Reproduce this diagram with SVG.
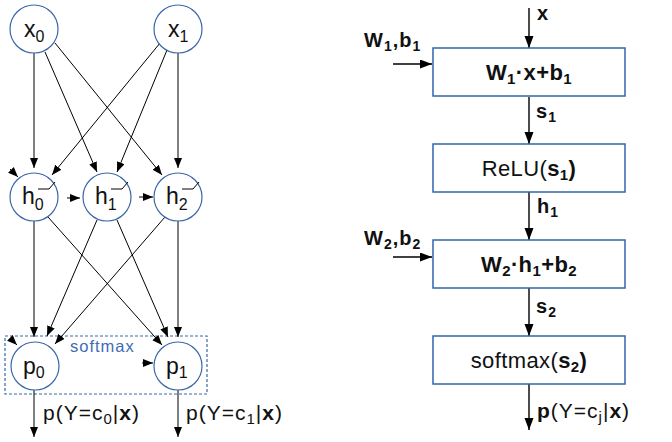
<svg xmlns="http://www.w3.org/2000/svg" width="672" height="442" viewBox="0 0 672 442">
<defs>
<marker id="ah" markerUnits="userSpaceOnUse" markerWidth="11" markerHeight="9" refX="10" refY="4" orient="auto" viewBox="0 0 11 9">
<path d="M0,0 L10,4 L0,8 z" fill="#000"/>
</marker>
<marker id="ah2" markerUnits="userSpaceOnUse" markerWidth="13" markerHeight="10" refX="12" refY="4.5" orient="auto" viewBox="0 0 13 10">
<path d="M0,0 L12,4.5 L0,9 z" fill="#000"/>
</marker>
<style>
.t{font-family:"Liberation Sans",Arial,sans-serif;fill:#111}
.nd circle{fill:#fff;stroke:#3b68a8;stroke-width:1.2}
.relu{fill:none;stroke:#000;stroke-width:1}
.e{stroke:#000;stroke-width:1;fill:none;marker-end:url(#ah)}
.e2{stroke:#000;stroke-width:1.4;fill:none;marker-end:url(#ah2)}
.box rect{fill:#fff;stroke:#3266a8;stroke-width:1.5}
.big{font-size:23px}
.sub{font-size:16px}
.sub2{font-size:15px}
.sub3{font-size:14px}
.out{font-size:21px;letter-spacing:1px}
.bx{font-size:22px;letter-spacing:0.4px}
.lb{font-size:20px;font-weight:bold;letter-spacing:1px}
</style>
</defs>

<g id="softmax-group">
<rect x="5" y="336" width="202" height="58" fill="none" stroke="#3b68a8" stroke-width="1.2" stroke-dasharray="3,2"/>
<text class="t" x="70" y="352" font-size="16.5" letter-spacing="1" style="fill:#3d6db5">softmax</text>
</g>

<g id="connectors">
<line class="e" x1="34" y1="53" x2="34" y2="168"/>
<line class="e" x1="45" y1="52" x2="97" y2="172"/>
<line class="e" x1="55" y1="43" x2="162" y2="175"/>
<line class="e" x1="160" y1="43" x2="52" y2="175"/>
<line class="e" x1="167" y1="50" x2="117" y2="172"/>
<line class="e" x1="178" y1="53" x2="178" y2="168"/>
<line class="e" x1="10" y1="169" x2="18" y2="177"/>
<line class="e" x1="67" y1="198" x2="80" y2="198"/>
<line class="e" x1="139" y1="197" x2="153" y2="197"/>
<line class="e" x1="34" y1="221" x2="34" y2="337"/>
<line class="e" x1="48" y1="217" x2="162" y2="345"/>
<line class="e" x1="97" y1="220" x2="47" y2="336"/>
<line class="e" x1="117" y1="220" x2="168" y2="337"/>
<line class="e" x1="165" y1="217" x2="55" y2="344"/>
<line class="e" x1="178" y1="221" x2="178" y2="337"/>
<line class="e" x1="10" y1="338" x2="17" y2="345"/>
<line class="e" x1="142" y1="363" x2="153" y2="363"/>
<line class="e" x1="34" y1="390" x2="34" y2="437"/>
<line class="e" x1="178" y1="390" x2="178" y2="437"/>
<line class="e2" x1="529" y1="8" x2="529" y2="48"/>
<line class="e2" x1="529" y1="97" x2="529" y2="144"/>
<line class="e2" x1="529" y1="192" x2="529" y2="240"/>
<line class="e2" x1="529" y1="288" x2="529" y2="336"/>
<line class="e2" x1="529" y1="384" x2="529" y2="430"/>
<line class="e2" x1="393" y1="64" x2="432" y2="64"/>
<line class="e2" x1="393" y1="257" x2="432" y2="257"/>
</g>

<g id="x0" class="nd"><circle cx="34" cy="29" r="24"/><text class="t big" x="24" y="37">x<tspan class="sub" dy="5">0</tspan></text></g>
<g id="x1" class="nd"><circle cx="178" cy="29" r="24"/><text class="t big" x="168" y="37">x<tspan class="sub" dy="5">1</tspan></text></g>

<g id="h0" class="nd"><circle cx="34" cy="197" r="24"/><polyline class="relu" points="38,189 49,189 55,182"/><text class="t big" x="22" y="204">h<tspan class="sub" dy="6">0</tspan></text></g>
<g id="h1" class="nd"><circle cx="107" cy="197" r="24"/><polyline class="relu" points="111,189 122,189 128,182"/><text class="t big" x="95" y="204">h<tspan class="sub" dy="6">1</tspan></text></g>
<g id="h2" class="nd"><circle cx="178" cy="197" r="24"/><polyline class="relu" points="182,189 193,189 199,182"/><text class="t big" x="166" y="204">h<tspan class="sub" dy="6">2</tspan></text></g>

<g id="p0" class="nd"><circle cx="35" cy="366" r="24"/><text class="t big" x="23" y="374">p<tspan class="sub" dy="4">0</tspan></text></g>
<g id="p1" class="nd"><circle cx="178" cy="366" r="24"/><text class="t big" x="166" y="374">p<tspan class="sub" dy="4">1</tspan></text></g>

<g id="out-labels">
<text class="t out" x="43" y="420">p(Y=c<tspan class="sub2" dy="4">0</tspan><tspan dy="-4">|</tspan><tspan font-weight="bold">x</tspan>)</text>
<text class="t out" x="186" y="420">p(Y=c<tspan class="sub2" dy="4">1</tspan><tspan dy="-4">|</tspan><tspan font-weight="bold">x</tspan>)</text>
</g>

<g id="lin1" class="box"><rect x="433" y="48" width="192" height="48"/><text class="t bx" x="529" y="80" text-anchor="middle" font-weight="bold">W<tspan class="sub2" dy="4">1</tspan><tspan dy="-4">·x+b</tspan><tspan class="sub2" dy="4">1</tspan></text></g>
<g id="relu" class="box"><rect x="433" y="144" width="192" height="48"/><text class="t bx" x="529" y="176" text-anchor="middle">ReLU(<tspan font-weight="bold">s</tspan><tspan class="sub2" dy="4" font-weight="bold">1</tspan><tspan dy="-4" font-weight="bold">)</tspan></text></g>
<g id="lin2" class="box"><rect x="433" y="240" width="192" height="48"/><text class="t bx" x="529" y="272" text-anchor="middle" font-weight="bold">W<tspan class="sub2" dy="4">2</tspan><tspan dy="-4">·h</tspan><tspan class="sub2" dy="4">1</tspan><tspan dy="-4">+b</tspan><tspan class="sub2" dy="4">2</tspan></text></g>
<g id="softmax" class="box"><rect x="433" y="336" width="192" height="48"/><text class="t bx" x="529" y="368" text-anchor="middle">softmax(<tspan font-weight="bold">s</tspan><tspan class="sub2" dy="4" font-weight="bold">2</tspan><tspan dy="-4" font-weight="bold">)</tspan></text></g>

<g id="flow-labels">
<text class="t lb" x="537" y="20">x</text>
<text class="t lb" x="364" y="47">W<tspan class="sub3" dy="4">1</tspan><tspan dy="-4">,b</tspan><tspan class="sub3" dy="4">1</tspan></text>
<text class="t lb" x="536" y="118">s<tspan class="sub3" dy="4">1</tspan></text>
<text class="t lb" x="537" y="213">h<tspan class="sub3" dy="4">1</tspan></text>
<text class="t lb" x="364" y="245">W<tspan class="sub3" dy="4">2</tspan><tspan dy="-4">,b</tspan><tspan class="sub3" dy="4">2</tspan></text>
<text class="t lb" x="536" y="313">s<tspan class="sub3" dy="4">2</tspan></text>
<text class="t out" x="537" y="418"><tspan font-weight="bold">p</tspan>(Y=c<tspan class="sub2" dy="4">j</tspan><tspan dy="-4">|</tspan><tspan font-weight="bold">x</tspan>)</text>
</g>
</svg>
